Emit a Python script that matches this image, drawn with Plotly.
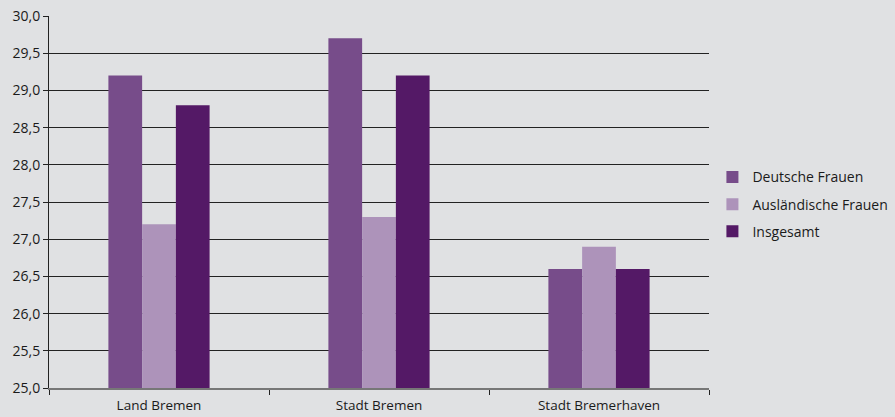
import plotly.graph_objects as go

categories = ["Land Bremen", "Stadt Bremen", "Stadt Bremerhaven"]
series_names = ["Deutsche Frauen", "Ausländische Frauen", "Insgesamt"]
deutsche = [29.2, 29.7, 26.6]
auslaendische = [27.2, 27.3, 26.9]
insgesamt = [28.8, 29.2, 26.6]
y_ticks = [25.0, 25.5, 26.0, 26.5, 27.0, 27.5, 28.0, 28.5, 29.0, 29.5, 30.0]

colors = ["#774c8a", "#ad93ba", "#541966"]
values = [deutsche, auslaendische, insgesamt]

fig = go.Figure()
for name, vals, c in zip(series_names, values, colors):
    fig.add_trace(go.Bar(x=categories, y=vals, name=name, legendgroup=name,
                         marker=dict(color=c, line=dict(width=0))))

fig.update_layout(
    width=895, height=417,
    margin=dict(l=49, r=186, t=16, b=29, autoexpand=False),
    paper_bgcolor="#e0e1e3", plot_bgcolor="#e0e1e3",
    barmode="group", bargap=0.54, bargroupgap=0,
    separators=",.",
    font=dict(family="Open Sans, sans-serif", size=13, color="#1a1a1a"),
    legend=dict(xref="container", yref="container", x=0.796, y=0.51,
                yanchor="middle", xanchor="left",
                font=dict(size=14, color="#1a1a1a"), bgcolor="rgba(0,0,0,0)",
                itemwidth=30, tracegroupgap=6),
    showlegend=True,
)
fig.update_yaxes(range=[25, 30], tickvals=y_ticks, tickformat=".1f",
                 showgrid=True, gridcolor="#222", gridwidth=1,
                 showline=True, linecolor="#222", linewidth=1,
                 ticks="outside", ticklen=5, tickcolor="#222",
                 zeroline=False, tickfont=dict(size=14), automargin=False)
fig.update_xaxes(showline=True, linecolor="#777", linewidth=2,
                 ticks="outside", tickson="boundaries", ticklen=5, tickcolor="#222",
                 tickfont=dict(size=13.5), automargin=False, ticklabelstandoff=4)
fig.write_html("out.html")
